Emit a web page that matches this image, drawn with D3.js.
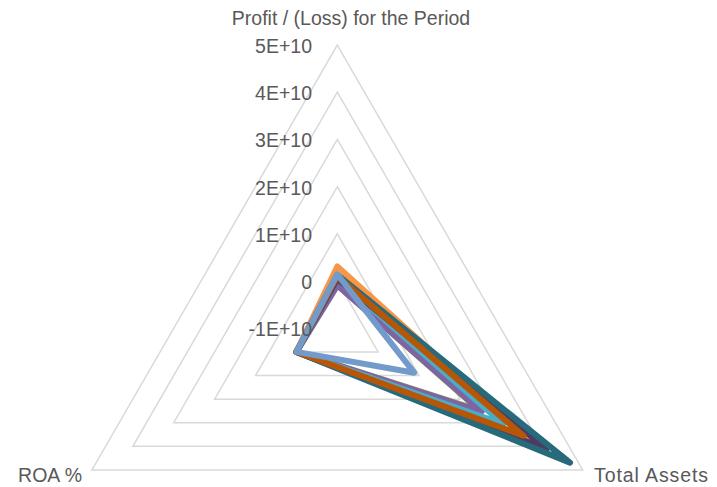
<!DOCTYPE html>
<html>
<head>
<meta charset="utf-8">
<script src="https://cdn.jsdelivr.net/npm/d3@7"></script>
<style>
  html, body { margin: 0; padding: 0; background: #ffffff; }
  svg { display: block; }
  text { font-family: "Liberation Sans", Arial, sans-serif; fill: #595959; }
</style>
</head>
<body>
<svg id="chart" width="717" height="487"></svg>
<script>
// ---- data ----
const axes = ["Profit / (Loss) for the Period", "Total Assets", "ROA %"];
const tickValues = [-1e10, 0, 1e10, 2e10, 3e10, 4e10, 5e10];
const tickLabels = ["-1E+10", "0", "1E+10", "2E+10", "3E+10", "4E+10", "5E+10"];
const seriesNames = ["Series 3", "Series 4", "Series 5", "Series 6", "Series 10", "Series 11", "Series 12", "Series 13"];
const profitValues = [-0.9e9, -0.9e9, 0.6e9, 3.1e9, 0.5e9, 1.3e9, 1.0e9, 1.4e9];
const assetValues  = [2.48e10, 2.53e10, 3.06e10, 3.67e10, 4.12e10, 4.69e10, 3.55e10, 0.88e10];
const roaValues    = [0.01, 0.01, 0.01, 0.02, 0.01, 0.01, 0.01, 0.02];
const seriesColors = ["#9BBB59", "#8064A2", "#4BACC6", "#F79646", "#4D3B62", "#276A7C", "#B65708", "#729ACA"];

// ---- layout ----
const svg = d3.select("#chart");
const cx = 337.3, cy = 328.3, R = 283.3;
const r = d3.scaleLinear().domain([-1e10, 5e10]).range([0, R]);
const angles = [-90, 30, 150].map(a => a * Math.PI / 180);
const pt = (ai, v) => [cx + r(v) * Math.cos(angles[ai]), cy + r(v) * Math.sin(angles[ai])];

// gridlines
const grid = svg.append("g");
tickValues.slice(1).forEach(v => {
  grid.append("path")
    .attr("d", d3.line()([0, 1, 2].map(i => pt(i, v))) + "Z")
    .attr("fill", "none")
    .attr("stroke", "#D9D9D9")
    .attr("stroke-width", 1.5);
});

// series
const data = seriesNames.map((n, i) => ({
  name: n, color: seriesColors[i],
  vals: [profitValues[i], assetValues[i], roaValues[i]]
}));
const lineGen = d3.line();
svg.append("g").selectAll("path").data(data).join("path")
  .attr("d", d => lineGen(d.vals.map((v, i) => pt(i, v))) + "Z")
  .attr("fill", "none")
  .attr("stroke", d => d.color)
  .attr("stroke-width", 6)
  .attr("stroke-linejoin", "round");

// tick labels
svg.append("g").selectAll("text").data(tickValues).join("text")
  .attr("x", 312)
  .attr("y", v => pt(0, v)[1] + 8)
  .attr("text-anchor", "end")
  .style("font-size", "19.5px")
  .text((v, i) => tickLabels[i]);

// axis labels
svg.append("text").attr("x", 351).attr("y", 25).attr("text-anchor", "middle")
  .style("font-size", "19.5px").text(axes[0]);
svg.append("text").attr("x", 594).attr("y", 481.5).attr("text-anchor", "start")
  .style("font-size", "19.5px").attr("textLength", 114).attr("lengthAdjust", "spacing").text(axes[1]);
svg.append("text").attr("x", 82).attr("y", 481.5).attr("text-anchor", "end")
  .style("font-size", "19.5px").text(axes[2]);
</script>
</body>
</html>
